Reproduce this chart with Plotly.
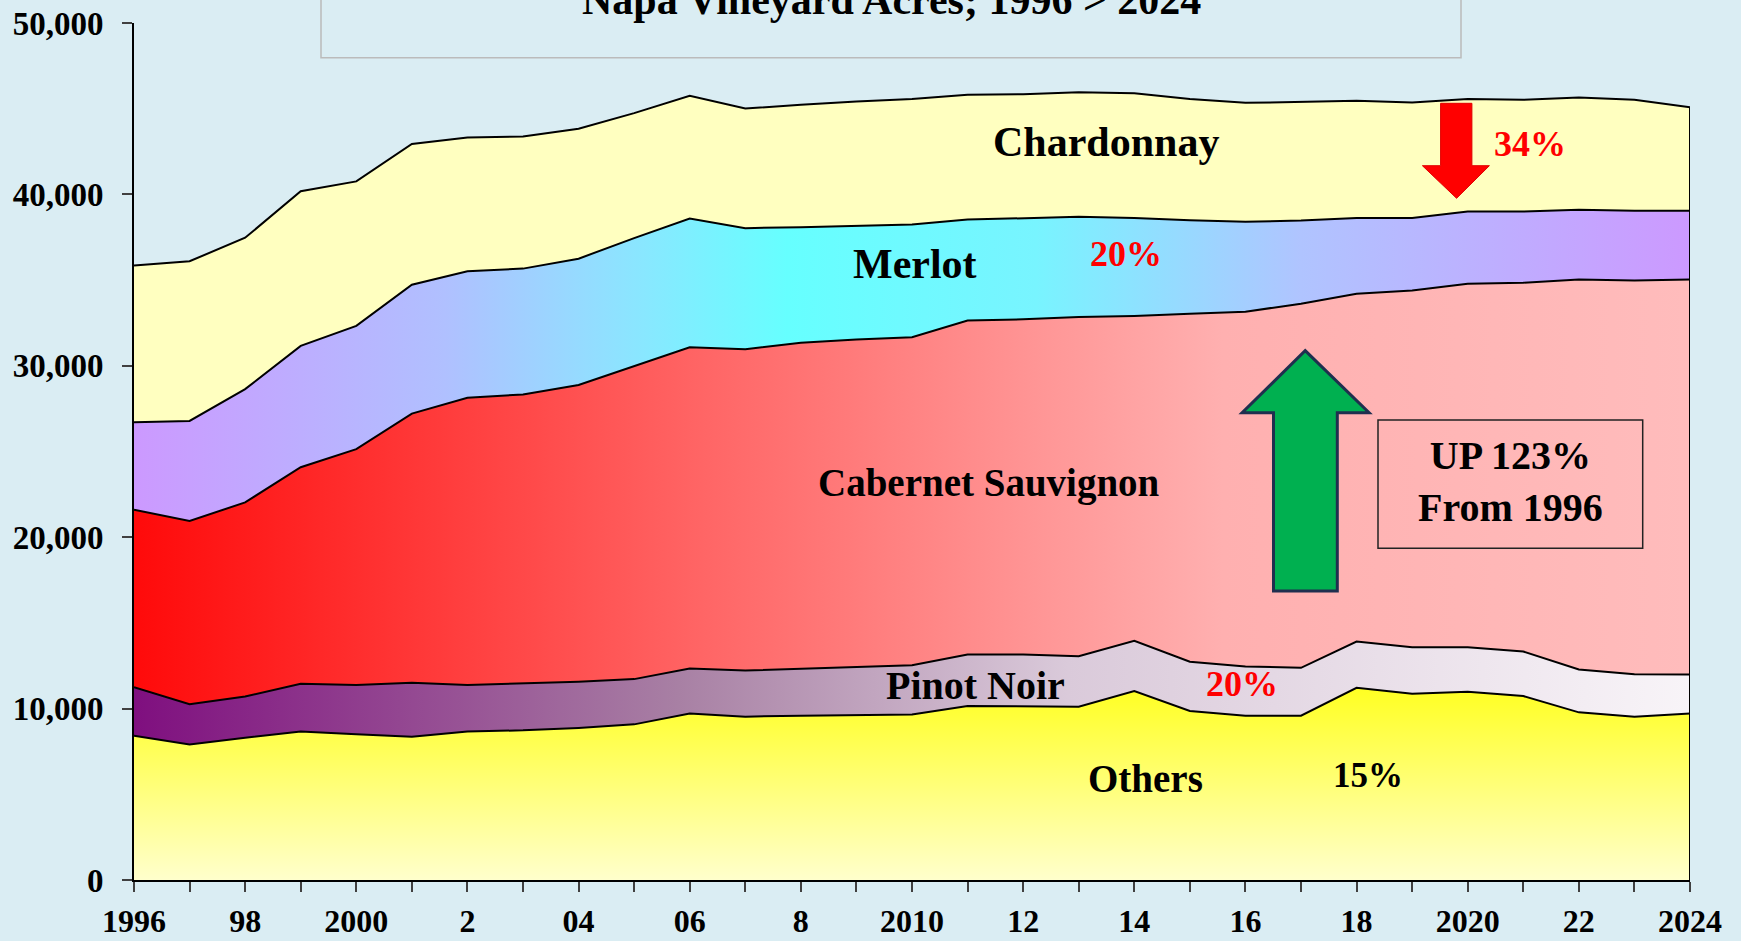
import plotly.graph_objects as go

# Napa vineyard acres by variety, 1996 -> 2024 (stacked)
years = list(range(1996, 2025))
others = [8420, 7900, 8300, 8670, 8500, 8360, 8670, 8730, 8870, 9080, 9720, 9530, 9590, 9620, 9660,
          10150, 10150, 10110, 11020, 9860, 9590, 9590, 11210, 10870, 10980, 10730, 9780, 9530, 9720]
pinot_noir = [2830, 2360, 2410, 2780, 2870, 3150, 2700, 2720, 2700, 2640, 2620, 2690, 2730, 2780, 2870,
              3000, 3000, 2950, 2930, 2870, 2870, 2790, 2700, 2710, 2600, 2600, 2500, 2480, 2270]
cabernet = [10350, 10690, 11320, 12630, 13770, 15700, 16770, 16880, 17310, 18260, 18740, 18740, 19030, 19140, 19140,
            19490, 19560, 19780, 18950, 20300, 20700, 21240, 20290, 20810, 21200, 21520, 22760, 22970, 23050]
merlot = [5100, 5830, 6610, 7080, 7190, 7520, 7380, 7340, 7370, 7470, 7510, 7070, 6740, 6640, 6570,
          5890, 5880, 5850, 5730, 5460, 5240, 4850, 4430, 4240, 4220, 4150, 4070, 4070, 4010]
chardonnay = [9150, 9320, 8830, 9020, 8430, 8210, 7800, 7710, 7580, 7290, 7160, 6980, 7140, 7240, 7320,
              7280, 7260, 7270, 7270, 7070, 6940, 6950, 6830, 6730, 6560, 6520, 6540, 6470, 6040]

x_ticktext = ["1996", "", "98", "", "2000", "", "2", "", "04", "", "06", "", "8", "", "2010", "",
              "12", "", "14", "", "16", "", "18", "", "2020", "", "22", "", "2024"]
y_ticks = [0, 10000, 20000, 30000, 40000, 50000]

BG = "#DAEDF3"
FONT = "Liberation Serif"
W, H = 1741, 941
L, R, T, B = 134, 51, 23, 61


def px(X):
    return (X - L) / (W - L - R)


def py(Y):
    return (H - B - Y) / (H - T - B)


fig = go.Figure()

line = dict(color="black", width=2)
fig.add_trace(go.Scatter(x=years, y=others, name="Others", stackgroup="a", line=line,
                         fillgradient=dict(type="vertical", start=0, stop=11200,
                                           colorscale=[[0, "#FFFFCC"], [1, "#FFFF22"]])))
fig.add_trace(go.Scatter(x=years, y=pinot_noir, name="Pinot Noir", stackgroup="a", line=line,
                         fillgradient=dict(type="horizontal",
                                           colorscale=[[0, "#7F0F7F"], [0.35, "#A880A4"],
                                                       [0.6, "#DACADA"], [1, "#F8F4F8"]])))
fig.add_trace(go.Scatter(x=years, y=cabernet, name="Cabernet Sauvignon", stackgroup="a", line=line,
                         fillgradient=dict(type="horizontal",
                                           colorscale=[[0, "#FF0A0A"], [0.36, "#FF6464"],
                                                       [0.7, "#FFB0B0"], [1, "#FFBCBC"]])))
fig.add_trace(go.Scatter(x=years, y=merlot, name="Merlot", stackgroup="a", line=line,
                         fillgradient=dict(type="horizontal",
                                           colorscale=[[0, "#CC99FF"], [0.2, "#B0C0FF"], [0.33, "#88E8FF"],
                                                       [0.42, "#66FFFF"], [0.58, "#78F4FF"],
                                                       [0.75, "#B0C4FF"], [1, "#CC99FF"]])))
fig.add_trace(go.Scatter(x=years, y=chardonnay, name="Chardonnay", stackgroup="a", line=line,
                         fillcolor="#FFFFC0"))

# right edge of the stack
total_last = others[-1] + pinot_noir[-1] + cabernet[-1] + merlot[-1] + chardonnay[-1]
fig.add_trace(go.Scatter(x=[years[-1], years[-1]], y=[0, total_last], mode="lines", line=line))

label_font = dict(family=FONT, size=42, color="black", weight="bold")
red_font = dict(family=FONT, size=36, color="#FF0000", weight="bold")
labels = [
    ("Chardonnay", 1106, 142, label_font),
    ("Merlot", 915, 264, label_font),
    ("20%", 1126, 254, red_font),
    ("34%", 1530, 144, red_font),
    ("Cabernet Sauvignon", 989, 483, dict(label_font, size=39)),
    ("Pinot Noir", 975, 685, dict(label_font, size=40)),
    ("20%", 1242, 684, red_font),
    ("Others", 1145, 778, dict(label_font, size=39)),
    ("15%", 1368, 775, dict(label_font, size=35)),
]
for txt, X, Y, f in labels:
    fig.add_annotation(x=px(X), y=py(Y), xref="paper", yref="paper", text=txt, showarrow=False,
                       font=f, xanchor="center", yanchor="middle")

# title box (top cut off)
fig.add_shape(type="rect", xref="paper", yref="paper", x0=px(321), x1=px(1461), y0=py(57.7), y1=py(-10),
              line=dict(color="#BBBBBB", width=1.5), fillcolor=BG, layer="above")
fig.add_annotation(x=px(891), y=py(0), xref="paper", yref="paper", text="Napa Vineyard Acres; 1996 > 2024",
                   showarrow=False, font=dict(family=FONT, size=42, color="black", weight="bold"),
                   xanchor="center", yanchor="middle")

# red down arrow
red_pts = [(1440.6, 103.3), (1471.9, 103.3), (1471.9, 165.7), (1489.4, 165.7), (1456.6, 198.3),
           (1422.4, 165.7), (1440.6, 165.7)]
path = "M " + " L ".join(f"{px(a)},{py(b)}" for a, b in red_pts) + " Z"
fig.add_shape(type="path", xref="paper", yref="paper", path=path, fillcolor="#FF0000",
              line=dict(color="#E00000", width=1))

# green up arrow
green_pts = [(1305.2, 350.7), (1369.1, 412.7), (1337.3, 412.7), (1337.3, 591), (1273.5, 591),
             (1273.5, 412.7), (1242.1, 412.7)]
path = "M " + " L ".join(f"{px(a)},{py(b)}" for a, b in green_pts) + " Z"
fig.add_shape(type="path", xref="paper", yref="paper", path=path, fillcolor="#00B050",
              line=dict(color="#1F2F4F", width=3))

# UP 123% box
fig.add_shape(type="rect", xref="paper", yref="paper", x0=px(1378), x1=px(1642.7), y0=py(548.3), y1=py(420),
              line=dict(color="#222222", width=1.5))
fig.add_annotation(x=px(1510), y=py(481), xref="paper", yref="paper", text="UP 123%<br>From 1996",
                   showarrow=False, font=dict(family=FONT, size=40, color="black", weight="bold"),
                   xanchor="center", yanchor="middle")

fig.update_layout(
    width=W, height=H,
    margin=dict(l=L, r=R, t=T, b=B),
    paper_bgcolor=BG, plot_bgcolor=BG,
    showlegend=False,
    xaxis=dict(range=[1996, 2024], tickvals=years, ticktext=x_ticktext, showgrid=False, zeroline=False,
               showline=True, linecolor="black", linewidth=2, ticks="outside", ticklen=10,
               tickcolor="#404040", tickwidth=1.5, ticklabelstandoff=2, automargin=False,
               tickfont=dict(family=FONT, size=32, color="black", weight="bold")),
    yaxis=dict(range=[0, 50000], tickvals=y_ticks, tickformat=",", showgrid=False, zeroline=False,
               showline=True, linecolor="black", linewidth=2, ticks="outside", ticklen=10,
               tickcolor="#404040", tickwidth=1.5, ticklabelstandoff=12, automargin=False,
               tickfont=dict(family=FONT, size=33, color="black", weight="bold")),
)

# drop the default page margin so the figure sits at the window corner
fig.write_html("out.html", config={"displayModeBar": False},
               post_script="document.body.style.margin='0';")
